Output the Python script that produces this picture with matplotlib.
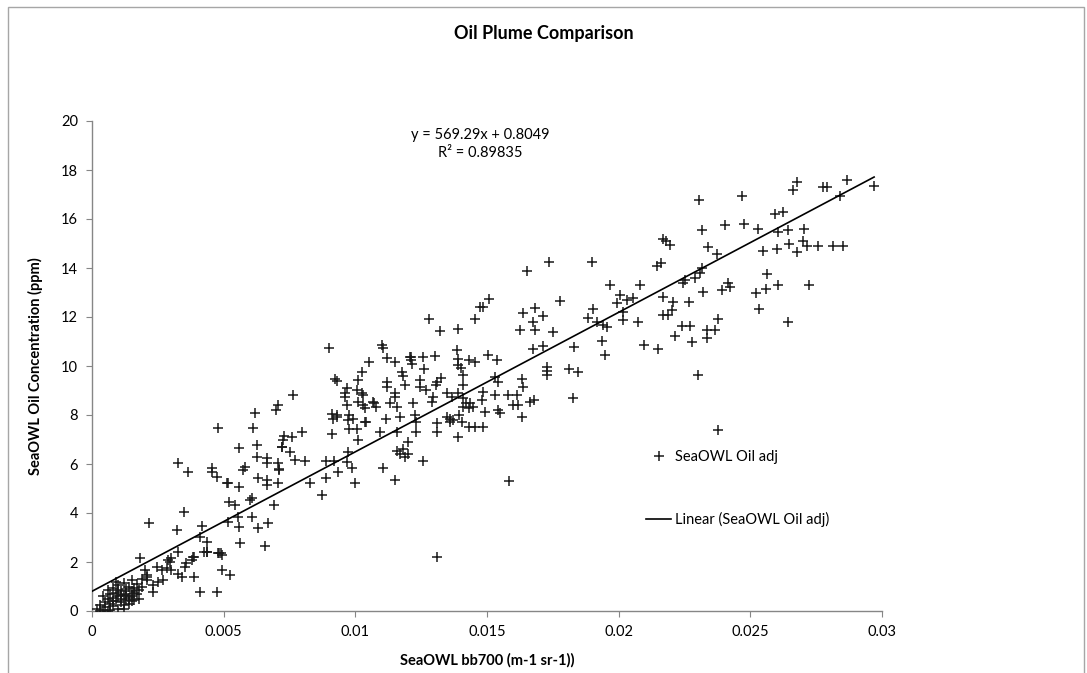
"""Oil plume comparison scatter with linear trendline."""

import matplotlib
matplotlib.use("Agg")
import matplotlib.pyplot as plt
from matplotlib.lines import Line2D
from matplotlib.patches import Rectangle

plt.rcParams["font.family"] = ["Lato", "DejaVu Sans"]

# --- data (x = bb700, y = oil ppm) ---

# dense cluster near the origin
bb700_origin = [
    0.0002, 0.0003, 0.0004, 0.0005, 0.0005, 0.0006, 0.0006, 0.0007, 0.0007, 0.0008,
    0.0008, 0.0008, 0.0009, 0.0009, 0.0010, 0.0010, 0.0010, 0.0011, 0.0011, 0.0011,
    0.0012, 0.0012, 0.0012, 0.0013, 0.0013, 0.0013, 0.0014, 0.0014, 0.0014, 0.0015,
    0.0015, 0.0015, 0.0016, 0.0016, 0.0017, 0.0017, 0.0018, 0.0018, 0.0019, 0.0019,
    0.0004, 0.0006, 0.0009, 0.0003, 0.0012, 0.0007, 0.0010, 0.0013, 0.0011, 0.0015,
    0.0008, 0.0016,
]
oil_origin = [
    0.10, 0.25, 0.05, 0.35, 0.15, 0.50, 0.00, 0.30, 0.70, 0.20,
    0.55, 0.95, 0.40, 0.75, 0.10, 0.60, 1.05, 0.35, 0.80, 0.50,
    0.65, 0.25, 1.15, 0.45, 0.90, 0.70, 0.55, 0.30, 1.00, 0.80,
    0.60, 1.25, 0.45, 0.95, 0.70, 1.10, 0.85, 0.50, 1.00, 1.30,
    0.60, 0.85, 1.20, 0.00, 0.10, 0.05, 0.85, 0.60, 0.65, 0.40,
    0.40, 0.75,
]

# low range, x < 0.0075
bb700_low = [
    0.00477, 0.00619, 0.00610, 0.00705, 0.00699, 0.00325, 0.00363, 0.00454, 0.00456, 0.00476,
    0.00558, 0.00628, 0.00625, 0.00581, 0.00575, 0.00663, 0.00665, 0.00708, 0.00710, 0.00720,
    0.00724, 0.00632, 0.00664, 0.00663, 0.00511, 0.00517, 0.00558, 0.00708, 0.00348, 0.00218,
    0.00322, 0.00419, 0.00410, 0.00435, 0.00435, 0.00518, 0.00543, 0.00556, 0.00559, 0.00562,
    0.00521, 0.00600, 0.00608, 0.00606, 0.00632, 0.00667, 0.00657, 0.00691, 0.00182, 0.00201,
    0.00210, 0.00210, 0.00233, 0.00246, 0.00265, 0.00268, 0.00284, 0.00296, 0.00301, 0.00328,
    0.00327, 0.00340, 0.00353, 0.00357, 0.00378, 0.00384, 0.00387, 0.00389, 0.00410, 0.00425,
    0.00437, 0.00473, 0.00480, 0.00484, 0.00489, 0.00493, 0.00492, 0.00524, 0.00290, 0.00300,
    0.00210, 0.00250, 0.00230,
]
oil_low = [
    7.46, 8.07, 7.46, 8.41, 8.20, 6.03, 5.69, 5.82, 5.69, 5.46,
    6.64, 6.78, 6.30, 5.89, 5.75, 6.23, 6.03, 6.03, 5.75, 6.71,
    6.98, 5.42, 5.34, 5.14, 5.21, 5.21, 5.05, 5.21, 4.05, 3.58,
    3.31, 3.47, 3.03, 2.83, 2.42, 3.65, 4.33, 3.85, 3.44, 2.76,
    4.46, 4.53, 4.60, 3.85, 3.37, 3.60, 2.65, 4.33, 2.15, 1.67,
    1.47, 1.27, 0.79, 1.81, 1.67, 1.25, 1.74, 2.01, 1.67, 2.42,
    1.53, 1.40, 1.81, 1.95, 2.08, 2.22, 2.22, 1.40, 0.79, 2.42,
    2.42, 0.79, 2.35, 2.35, 2.35, 2.28, 1.67, 1.47, 2.10, 2.15,
    1.40, 1.20, 1.05,
]

# middle range, 0.007 < x < 0.015
bb700_mid = [
    0.01280, 0.01322, 0.01389, 0.01454, 0.00900, 0.01100, 0.01104, 0.01119, 0.01151, 0.01053,
    0.01024, 0.01011, 0.00923, 0.00929, 0.00967, 0.00960, 0.00960, 0.00967, 0.00910, 0.00914,
    0.00910, 0.00929, 0.00932, 0.00973, 0.00977, 0.00990, 0.00975, 0.01007, 0.01011, 0.00973,
    0.01005, 0.01026, 0.01030, 0.01010, 0.01030, 0.01036, 0.01036, 0.01041, 0.01068, 0.01071,
    0.01077, 0.01094, 0.01115, 0.01119, 0.01120, 0.01130, 0.01150, 0.01150, 0.01160, 0.01170,
    0.01160, 0.01176, 0.01180, 0.01190, 0.01208, 0.01210, 0.01212, 0.01214, 0.01258, 0.01303,
    0.01260, 0.01220, 0.01227, 0.01230, 0.01245, 0.01245, 0.01270, 0.01296, 0.01290, 0.01308,
    0.01310, 0.01325, 0.01309, 0.01309, 0.01347, 0.01347, 0.01360, 0.01360, 0.01370, 0.01367,
    0.01390, 0.01391, 0.01394, 0.01405, 0.01410, 0.01420, 0.01410, 0.01430, 0.01430, 0.01385,
    0.01390, 0.01390, 0.01400, 0.01410, 0.01430, 0.01410, 0.01473, 0.00765, 0.00796, 0.00730,
    0.00760, 0.00720, 0.00750, 0.00770, 0.00810, 0.00890, 0.00920, 0.00710, 0.00970, 0.00986,
    0.00935, 0.00890, 0.00828, 0.00872, 0.00999, 0.01106, 0.01150, 0.01160, 0.01170, 0.01180,
    0.01190, 0.01200, 0.01200, 0.01258, 0.01230, 0.01309,
]
oil_mid = [
    11.90, 11.43, 11.50, 11.90, 10.75, 10.86, 10.72, 10.34, 10.18, 10.18,
    9.77, 9.43, 9.46, 9.37, 9.09, 8.89, 8.75, 8.41, 8.03, 7.85,
    7.21, 7.92, 8.00, 7.80, 8.00, 7.85, 7.44, 7.44, 6.98, 6.50,
    9.02, 8.89, 8.82, 8.55, 8.41, 8.28, 7.71, 7.71, 8.54, 8.48,
    8.34, 7.32, 7.85, 9.36, 9.14, 8.48, 8.89, 8.75, 8.34, 7.93,
    7.32, 9.77, 9.60, 9.23, 10.38, 10.25, 10.38, 10.10, 10.38, 10.40,
    9.86, 8.48, 8.00, 7.71, 9.43, 9.16, 9.02, 8.75, 8.55, 9.23,
    9.36, 9.50, 7.66, 7.32, 8.89, 7.93, 7.85, 7.71, 7.78, 8.75,
    8.89, 7.12, 8.00, 7.71, 8.34, 8.48, 8.68, 8.28, 7.51, 10.65,
    10.30, 10.04, 9.90, 9.63, 10.25, 9.22, 12.42, 8.82, 7.32, 7.15,
    7.10, 6.70, 6.50, 6.16, 6.14, 6.14, 6.14, 5.80, 6.10, 5.82,
    5.69, 5.42, 5.24, 4.73, 5.21, 5.82, 5.35, 6.55, 6.40, 6.60,
    6.30, 6.40, 6.90, 6.13, 7.30, 2.19,
]

# upper-middle range, 0.014 < x < 0.022
bb700_upper = [
    0.01737, 0.01900, 0.01650, 0.02170, 0.02180, 0.02146, 0.02160, 0.01509, 0.01486, 0.01777,
    0.01635, 0.01682, 0.01676, 0.01714, 0.01682, 0.01625, 0.01752, 0.01676, 0.01714, 0.01830,
    0.01967, 0.02080, 0.02005, 0.01992, 0.02030, 0.02056, 0.02018, 0.02018, 0.02074, 0.01904,
    0.01885, 0.01916, 0.01942, 0.01954, 0.01938, 0.01948, 0.02097, 0.02150, 0.02170, 0.02170,
    0.01726, 0.01726, 0.01726, 0.01813, 0.01847, 0.01828, 0.01454, 0.01505, 0.01537, 0.01530,
    0.01543, 0.01632, 0.01638, 0.01632, 0.01581, 0.01613, 0.01619, 0.01600, 0.01663, 0.01680,
    0.01530, 0.01486, 0.01480, 0.01435, 0.01448, 0.01492, 0.01543, 0.01550, 0.01454, 0.01486,
    0.01585,
]
oil_upper = [
    14.23, 14.23, 13.88, 15.17, 15.10, 14.08, 14.20, 12.72, 12.42, 12.65,
    12.18, 12.35, 11.81, 12.04, 11.47, 11.47, 11.40, 10.68, 10.82, 10.79,
    13.30, 13.30, 12.90, 12.56, 12.69, 12.76, 12.22, 11.88, 11.81, 12.31,
    11.95, 11.81, 11.67, 11.60, 11.03, 10.45, 10.86, 10.68, 12.83, 12.10,
    9.97, 9.80, 9.63, 9.86, 9.77, 8.68, 10.18, 10.45, 10.24, 9.56,
    9.36, 9.46, 9.16, 7.93, 8.82, 8.82, 8.41, 8.41, 8.54, 8.60,
    8.82, 8.95, 8.61, 8.48, 8.34, 8.14, 8.20, 8.07, 7.52, 7.52,
    5.32,
]

# high range, x > 0.022
bb700_high = [
    0.02676, 0.02663, 0.02777, 0.02790, 0.02866, 0.02970, 0.02840, 0.02306, 0.02467, 0.02594,
    0.02625, 0.02315, 0.02404, 0.02476, 0.02528, 0.02606, 0.02644, 0.02704, 0.02195, 0.02340,
    0.02372, 0.02547, 0.02600, 0.02648, 0.02678, 0.02699, 0.02714, 0.02758, 0.02815, 0.02850,
    0.02315, 0.02309, 0.02290, 0.02252, 0.02245, 0.02321, 0.02394, 0.02416, 0.02423, 0.02523,
    0.02561, 0.02606, 0.02565, 0.02723, 0.02533, 0.02642, 0.02208, 0.02268, 0.02201, 0.02189,
    0.02239, 0.02271, 0.02378, 0.02334, 0.02366, 0.02214, 0.02277, 0.02334, 0.02300, 0.02378,
]
oil_high = [
    17.52, 17.18, 17.32, 17.32, 17.59, 17.35, 16.94, 16.78, 16.94, 16.19,
    16.27, 15.55, 15.76, 15.78, 15.58, 15.48, 15.55, 15.58, 14.94, 14.87,
    14.57, 14.69, 14.76, 14.98, 14.64, 15.11, 14.90, 14.90, 14.90, 14.90,
    13.99, 13.81, 13.58, 13.51, 13.37, 13.03, 13.10, 13.37, 13.24, 12.99,
    13.13, 13.31, 13.74, 13.31, 12.31, 11.78, 12.62, 12.62, 12.29, 12.08,
    11.63, 11.63, 11.90, 11.47, 11.47, 11.22, 10.99, 11.13, 9.63, 7.39,
]

# trendline reported on the chart
slope = 569.29
intercept = 0.8049
r_squared = 0.89835

x_ticks = [0, 0.005, 0.01, 0.015, 0.02, 0.025, 0.03]
y_ticks = [0, 2, 4, 6, 8, 10, 12, 14, 16, 18, 20]

bb700 = bb700_origin + bb700_low + bb700_mid + bb700_upper + bb700_high
oil = oil_origin + oil_low + oil_mid + oil_upper + oil_high

# --- figure ---

W, H = 1087, 673
fig = plt.figure(figsize=(W / 100, H / 100), dpi=100)
ax = fig.add_axes([92 / W, 1 - 611 / H, 790 / W, 490 / H])

# chart frame (left / top / right border of the chart object)
fig.patches.append(Rectangle((8 / W, -0.1), 1076 / W, 1.1 - 7 / H,
                             transform=fig.transFigure, fill=False,
                             edgecolor="#a6a6a6", linewidth=1.0))

ax.scatter(bb700, oil, marker="+", s=55, c="#1a1a1a", linewidths=1.1, zorder=3)

x_end = max(bb700)
ax.plot([0, x_end], [intercept, slope * x_end + intercept],
        color="black", linewidth=1.2, zorder=4)

ax.set_xlim(0, 0.03)
ax.set_ylim(0, 20)
ax.set_xticks(x_ticks)
ax.set_xticklabels([f"{v:g}" for v in x_ticks])
ax.set_yticks(y_ticks)
ax.tick_params(axis="both", direction="out", length=4, color="#868686",
               labelsize=10.5, pad=6)

for side in ("top", "right"):
    ax.spines[side].set_visible(False)
for side in ("left", "bottom"):
    ax.spines[side].set_color("#868686")
    ax.spines[side].set_linewidth(1.0)

ax.set_xlabel("SeaOWL bb700 (m-1 sr-1))", fontsize=10.5, fontweight="bold", labelpad=10)
ax.set_ylabel("SeaOWL Oil Concentration (ppm)", fontsize=10.5, fontweight="bold", labelpad=13)
fig.text(0.5, 1 - 34 / H, "Oil Plume Comparison", ha="center", va="center",
         fontsize=13, fontweight="bold")

ax.text(0.491, 0.971, f"y = {slope}x + {intercept}", transform=ax.transAxes,
        ha="center", va="center", fontsize=10.5)
ax.text(0.491, 0.935, f"R\u00b2 = {r_squared}", transform=ax.transAxes,
        ha="center", va="center", fontsize=10.5)

handles = [
    Line2D([0], [0], marker="+", linestyle="none", color="#1a1a1a",
           markersize=7, markeredgewidth=1.1, label="SeaOWL Oil adj"),
    Line2D([0], [0], color="black", linewidth=1.2, label="Linear (SeaOWL Oil adj)"),
]
ax.legend(handles=handles, loc="upper left", bbox_to_anchor=(0.685, 0.355),
          frameon=False, fontsize=10.5, labelspacing=3.25, handlelength=1.7,
          handletextpad=0.3)

fig.savefig("out.png", dpi=100)
